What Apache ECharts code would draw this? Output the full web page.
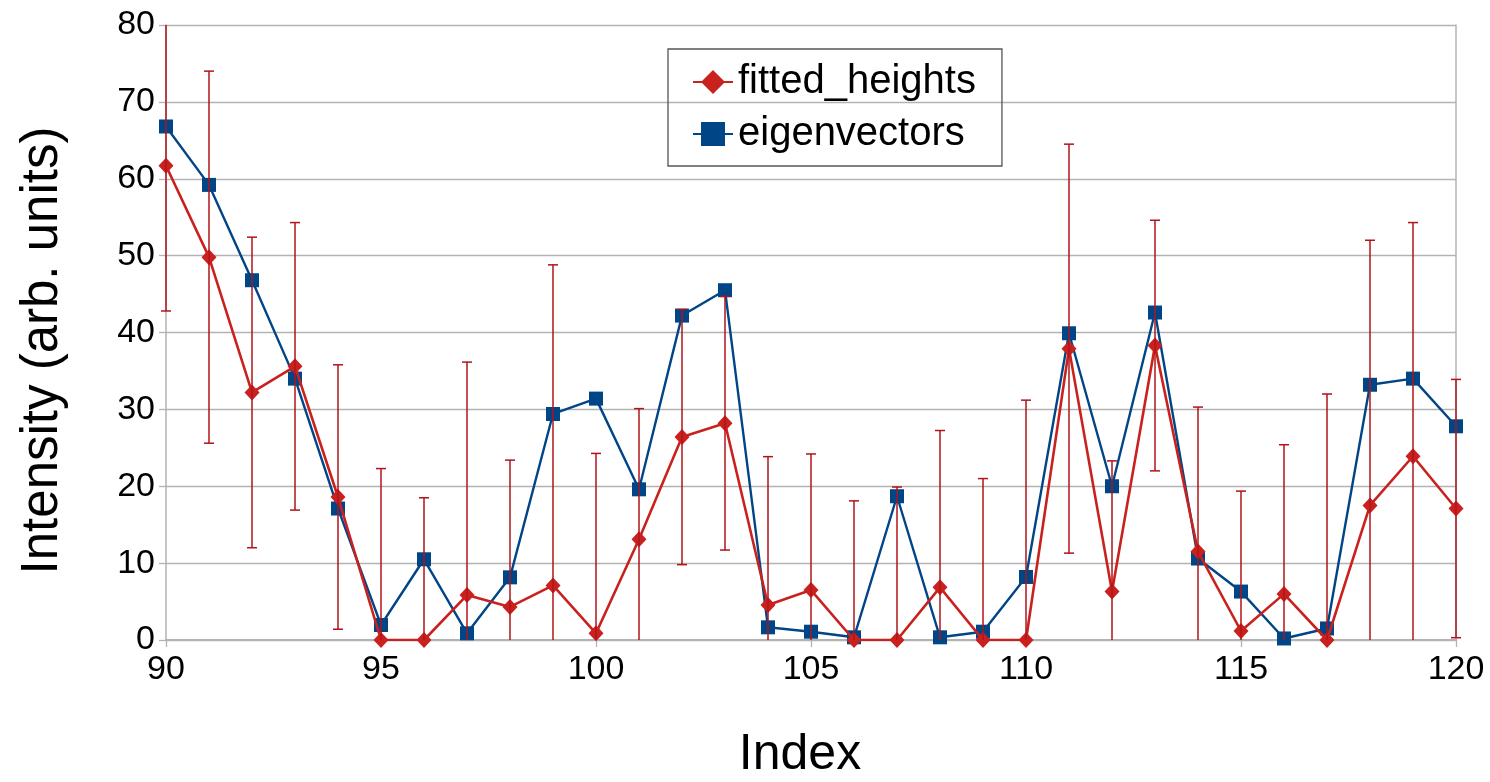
<!DOCTYPE html>
<html>
<head>
<meta charset="utf-8">
<script src="https://cdn.jsdelivr.net/npm/echarts@6/dist/echarts.min.js"></script>
<style>
html,body{margin:0;padding:0;background:#fff;}
#chart{width:1490px;height:782px;}
</style>
</head>
<body>
<div id="chart"></div>
<script>
var indices = [90,91,92,93,94,95,96,97,98,99,100,101,102,103,104,105,106,107,108,109,110,111,112,113,114,115,116,117,118,119,120];
var fittedHeights = [61.7,49.8,32.2,35.6,18.6,0,0,5.85,4.3,7.1,0.87,13.1,26.4,28.2,4.55,6.5,0,0,6.85,0,0,37.9,6.3,38.3,11.5,1.17,6.0,0,17.5,23.9,17.1];
var fittedErrors = [18.9,24.2,20.2,18.7,17.2,22.3,18.5,30.3,19.1,41.7,23.4,17.0,16.6,16.5,19.3,17.7,18.1,19.9,20.4,21.0,31.2,26.6,17.0,16.3,18.8,18.2,19.4,32.0,34.5,30.4,16.8];
var eigenvectors = [66.8,59.2,46.8,34.0,17.1,1.95,10.5,0.87,8.15,29.4,31.4,19.6,42.2,45.5,1.65,1.08,0.35,18.7,0.35,1.08,8.2,39.9,20.0,42.6,10.6,6.3,0.2,1.5,33.2,34.0,27.8];
var xTicks = {min:90, max:120, interval:5};
var yTicks = {min:0, max:80, interval:10};

var RED = '#c9211e', BLUE = '#004586', ERR = '#b0141a', GRID = '#b3b3b3';
var FONT = '"Liberation Sans", Arial, sans-serif';

var fittedData = indices.map(function(x,i){return [x, fittedHeights[i]];});
var eigenData = indices.map(function(x,i){return [x, eigenvectors[i]];});
var errData = indices.map(function(x,i){return [x, fittedHeights[i], fittedErrors[i]];});

var chart = echarts.init(document.getElementById('chart'), null, {renderer:'canvas'});
chart.setOption({
  backgroundColor:'#fff',
  animation:false,
  textStyle:{fontFamily:FONT},
  grid:{left:166, right:34, top:25, bottom:142, containLabel:false, outerBoundsMode:'none'},
  legend:{
    orient:'vertical', left:668, top:49,
    padding:[13,26,12,24], itemGap:12,
    itemWidth:40, itemHeight:30,
    borderColor:'#555', borderWidth:1.3,
    textStyle:{fontSize:40, color:'#000', fontFamily:FONT},
    data:['fitted_heights','eigenvectors']
  },
  xAxis:{
    type:'value', min:xTicks.min, max:xTicks.max, interval:xTicks.interval,
    name:'Index', nameLocation:'middle', nameGap:90,
    nameTextStyle:{fontSize:50, color:'#000', fontFamily:FONT, padding:[0,22,0,0]},
    axisLine:{show:true, lineStyle:{color:GRID, width:2}},
    axisTick:{show:true, length:7, lineStyle:{color:GRID, width:1.3}},
    axisLabel:{fontSize:34, color:'#000', margin:13, fontFamily:FONT},
    splitLine:{show:false}
  },
  yAxis:[{
    type:'value', min:yTicks.min, max:yTicks.max, interval:yTicks.interval,
    name:'Intensity (arb. units)', nameLocation:'middle', nameGap:98,
    nameTextStyle:{fontSize:51, color:'#000', fontFamily:FONT, padding:[0,36,0,0]},
    axisLine:{show:true, lineStyle:{color:GRID, width:1.5}},
    axisTick:{show:true, length:7, lineStyle:{color:GRID, width:1.3}},
    axisLabel:{fontSize:34, color:'#000', margin:11, fontFamily:FONT},
    splitLine:{show:true, lineStyle:{color:GRID, width:1.4}}
  },{
    type:'value', position:'right', min:yTicks.min, max:yTicks.max, interval:yTicks.interval,
    axisLine:{show:true, lineStyle:{color:GRID, width:1.5}},
    axisTick:{show:false}, axisLabel:{show:false}, splitLine:{show:false}
  }],
  series:[
    {
      name:'eigenvectors', type:'line', data:eigenData,
      symbol:'rect', symbolSize:14, showAllSymbol:true,
      lineStyle:{color:BLUE, width:2.4},
      itemStyle:{color:BLUE},
      z:2
    },
    {
      name:'fitted_heights', type:'line', data:fittedData,
      symbol:'diamond', symbolSize:[15,16], showAllSymbol:true,
      lineStyle:{color:RED, width:2.6},
      itemStyle:{color:RED},
      z:3
    },
    {
      name:'errors', type:'custom', data:errData, z:4,
      renderItem:function(params, api){
        var x = api.value(0), y = api.value(1), e = api.value(2);
        var lo = y - e, hi = y + e;
        var loC = Math.max(lo, yTicks.min), hiC = Math.min(hi, yTicks.max);
        var p0 = api.coord([x, loC]), p1 = api.coord([x, hiC]);
        var st = {stroke:ERR, lineWidth:1.5};
        var children = [{type:'line', shape:{x1:p0[0], y1:p0[1], x2:p1[0], y2:p1[1]}, style:st}];
        if (lo >= yTicks.min) children.push({type:'line', shape:{x1:p0[0]-5, y1:p0[1], x2:p0[0]+5, y2:p0[1]}, style:st});
        if (hi <= yTicks.max) children.push({type:'line', shape:{x1:p1[0]-5, y1:p1[1], x2:p1[0]+5, y2:p1[1]}, style:st});
        return {type:'group', children:children};
      }
    }
  ]
});
</script>
</body>
</html>
